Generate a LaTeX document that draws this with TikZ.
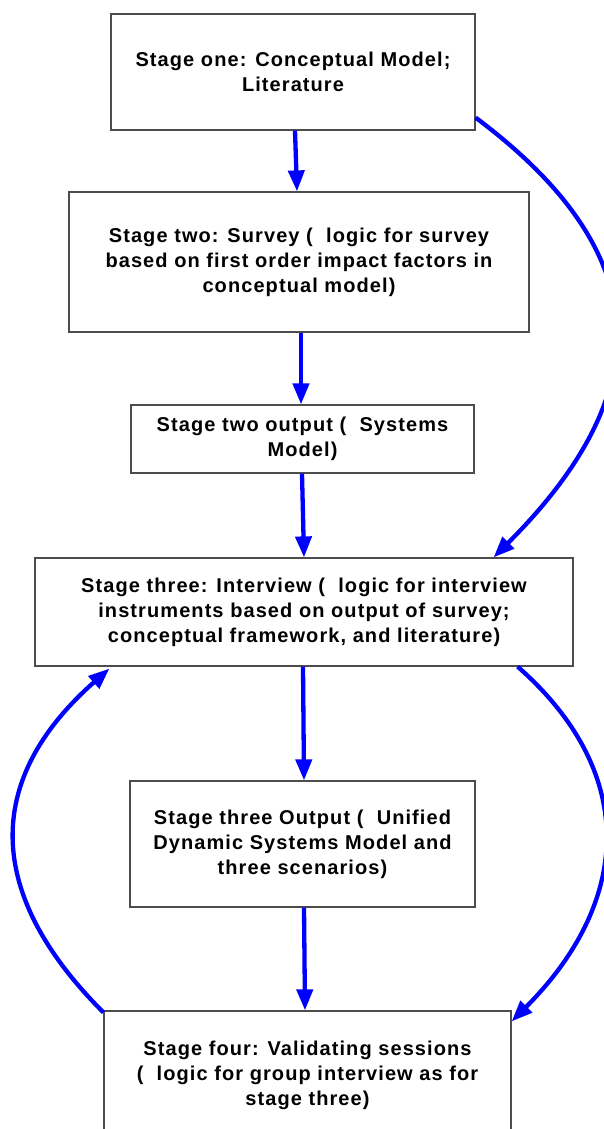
\documentclass[tikz,border=0pt]{standalone}
\usepackage{fontspec}
\setmainfont{Liberation Sans}[LetterSpace=5.4]
\usetikzlibrary{arrows.meta}
\tikzset{
  stagebox/.style={draw=black!70, line width=1.2pt, rectangle, inner sep=0pt,
    align=center, font=\bfseries\fontsize{20}{25}\selectfont},
  flow/.style={draw=blue, line width=4.3pt,
    -{Triangle[length=21pt,width=16pt]}},
}
\begin{document}
\begin{tikzpicture}[x=1pt,y=-1pt]
\useasboundingbox (0,0) rectangle (603,1129);

\node[stagebox, minimum width=364pt, minimum height=116pt] (b1) at (293,72)
  {Stage one: Conceptual Model;\\Literature};
\node[stagebox, minimum width=460pt, minimum height=140pt] (b2) at (299,262)
  {Stage two: Survey (\ \ logic for survey\\based on first order impact factors in\\conceptual model)};
\node[stagebox, minimum width=343pt, minimum height=68pt] (b3) at (302.5,439)
  {Stage two output (\ \ Systems\\Model)};
\node[stagebox, minimum width=538pt, minimum height=108pt] (b4) at (304,612)
  {Stage three: Interview (\ \ logic for interview\\instruments based on output of survey;\\conceptual framework, and literature)};
\node[stagebox, minimum width=345pt, minimum height=126pt] (b5) at (302.5,844)
  {Stage three Output (\ \ Unified\\Dynamic Systems Model and\\three scenarios)};
\node[stagebox, minimum width=407pt, minimum height=128pt] (b6) at (307.5,1075)
  {Stage four: Validating sessions\\(\ \ logic for group interview as for\\stage three)};

% main sequence
\draw[flow] ([xshift=2pt]b1.south) -- ([xshift=-2pt]b2.north);
\draw[flow] ([xshift=2pt]b2.south) -- ([xshift=-1.5pt]b3.north);
\draw[flow] ([xshift=-0.5pt]b3.south) -- (b4.north);
\draw[flow] ([xshift=-1pt]b4.south) -- ([xshift=1.5pt]b5.north);
\draw[flow] ([xshift=1.5pt]b5.south) -- ([xshift=-2.5pt]b6.north);

% side loops
\draw[flow] ([yshift=13pt]b1.south east) .. controls +(186,139) and +(162,-162) .. ([xshift=-80pt]b4.north east);
\draw[flow] ([xshift=-56pt]b4.south east) .. controls +(125,110) and +(116,-116) .. ([yshift=-11pt]b6.north east);
\draw[flow] ([yshift=-2pt]b6.north west) .. controls +(-118,-118) and +(-127,112) .. ([xshift=75pt,yshift=-2pt]b4.south west);
\end{tikzpicture}
\end{document}
